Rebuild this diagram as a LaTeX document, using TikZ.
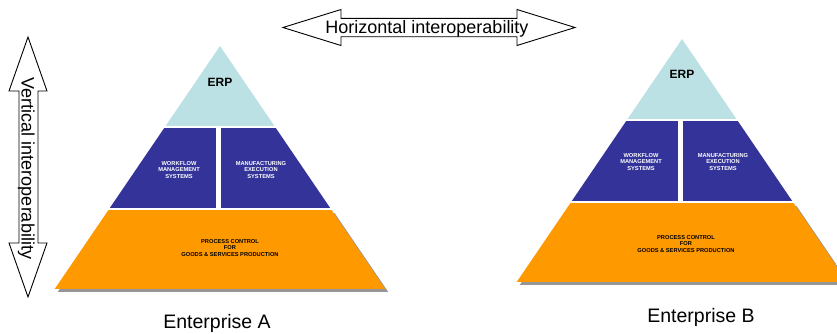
\documentclass[tikz,border=0pt]{standalone}
\usepackage{fontspec}
\setmainfont{Liberation Sans}
\definecolor{erpcol}{RGB}{188,225,228}
\definecolor{midcol}{RGB}{51,51,153}
\definecolor{basecol}{RGB}{255,153,0}
\definecolor{shadowcol}{RGB}{150,150,150}

% Three-level pyramid, apex at the scope origin (y grows downwards)
\newcommand\pyramidbands{%
  \begin{scope}
    \clip (3,3) -- (-162.3,246) -- (168.3,246) -- cycle;
    \fill[shadowcol] (-200,167) rectangle (200,246);
  \end{scope}
  \begin{scope}
    \clip (0,0) -- (-165.3,243) -- (165.3,243) -- cycle;
    \fill[erpcol] (-200,-5) rectangle (200,80);
    \fill[midcol] (-200,82) rectangle (-4,162);
    \fill[midcol] (1,82) rectangle (200,162);
    \fill[basecol] (-200,164) rectangle (200,243);
  \end{scope}}

\begin{document}
\begin{tikzpicture}[x=1pt,y=-1pt,
  arrowshape/.style={draw=black, fill=white, line width=0.9pt, line join=miter},
  arrowtext/.style={font=\fontsize{18}{20}\selectfont, inner sep=0pt},
  erptext/.style={font=\fontsize{12}{14}\selectfont\bfseries, inner sep=0pt},
  midtext/.style={font=\fontsize{5.7}{6.4}\selectfont\bfseries, align=center, inner sep=0pt, text=white},
  basetext/.style={font=\fontsize{5.7}{6.2}\selectfont\bfseries, align=center, inner sep=0pt, text=black},
  enttext/.style={font=\fontsize{19.5}{22}\selectfont, inner sep=0pt}]

\useasboundingbox (0,0) rectangle (837,333);
\clip (0,0) rectangle (837,333);

% Enterprise A
\begin{scope}[shift={(220,46)}]
  \pyramidbands
\end{scope}
\node[erptext]  (erpA)  at (220,82)  {ERP};
\node[midtext]  (wfmA)  at (179,170) {WORKFLOW\\MANAGEMENT\\SYSTEMS};
\node[midtext]  (mesA)  at (261,170) {MANUFACTURING\\EXECUTION\\SYSTEMS};
\node[basetext] (pcA)   at (230,248) {PROCESS CONTROL\\FOR\\GOODS \& SERVICES PRODUCTION};
\node[enttext, anchor=base] (entA) at (217,328) {Enterprise A};

% Enterprise B
\begin{scope}[shift={(682,39)}]
  \pyramidbands
\end{scope}
\node[erptext]  (erpB)  at (682,74)  {ERP};
\node[midtext]  (wfmB)  at (641,162) {WORKFLOW\\MANAGEMENT\\SYSTEMS};
\node[midtext]  (mesB)  at (723,162) {MANUFACTURING\\EXECUTION\\SYSTEMS};
\node[basetext] (pcB)   at (686,244) {PROCESS CONTROL\\FOR\\GOODS \& SERVICES PRODUCTION};
\node[enttext, anchor=base] (entB) at (701,322) {Enterprise B};

% Horizontal double arrow
\draw[arrowshape] (283,27.5) -- (341,9.5) -- (341,18.3) -- (517,18.3) -- (517,9.5)
  -- (575,27.5) -- (517,45.5) -- (517,36.7) -- (341,36.7) -- (341,45.5) -- cycle;
\node[arrowtext, anchor=base] (horiz) at (427,33) {Horizontal interoperability};

% Vertical double arrow
\draw[arrowshape] (28,37) -- (47,91) -- (38,91) -- (38,243) -- (47,243)
  -- (28,297) -- (9,243) -- (19,243) -- (19,91) -- (9,91) -- cycle;
\node[arrowtext, anchor=base, rotate=-90] (vert) at (21.5,168.5) {Vertical interoperability};

\end{tikzpicture}
\end{document}
